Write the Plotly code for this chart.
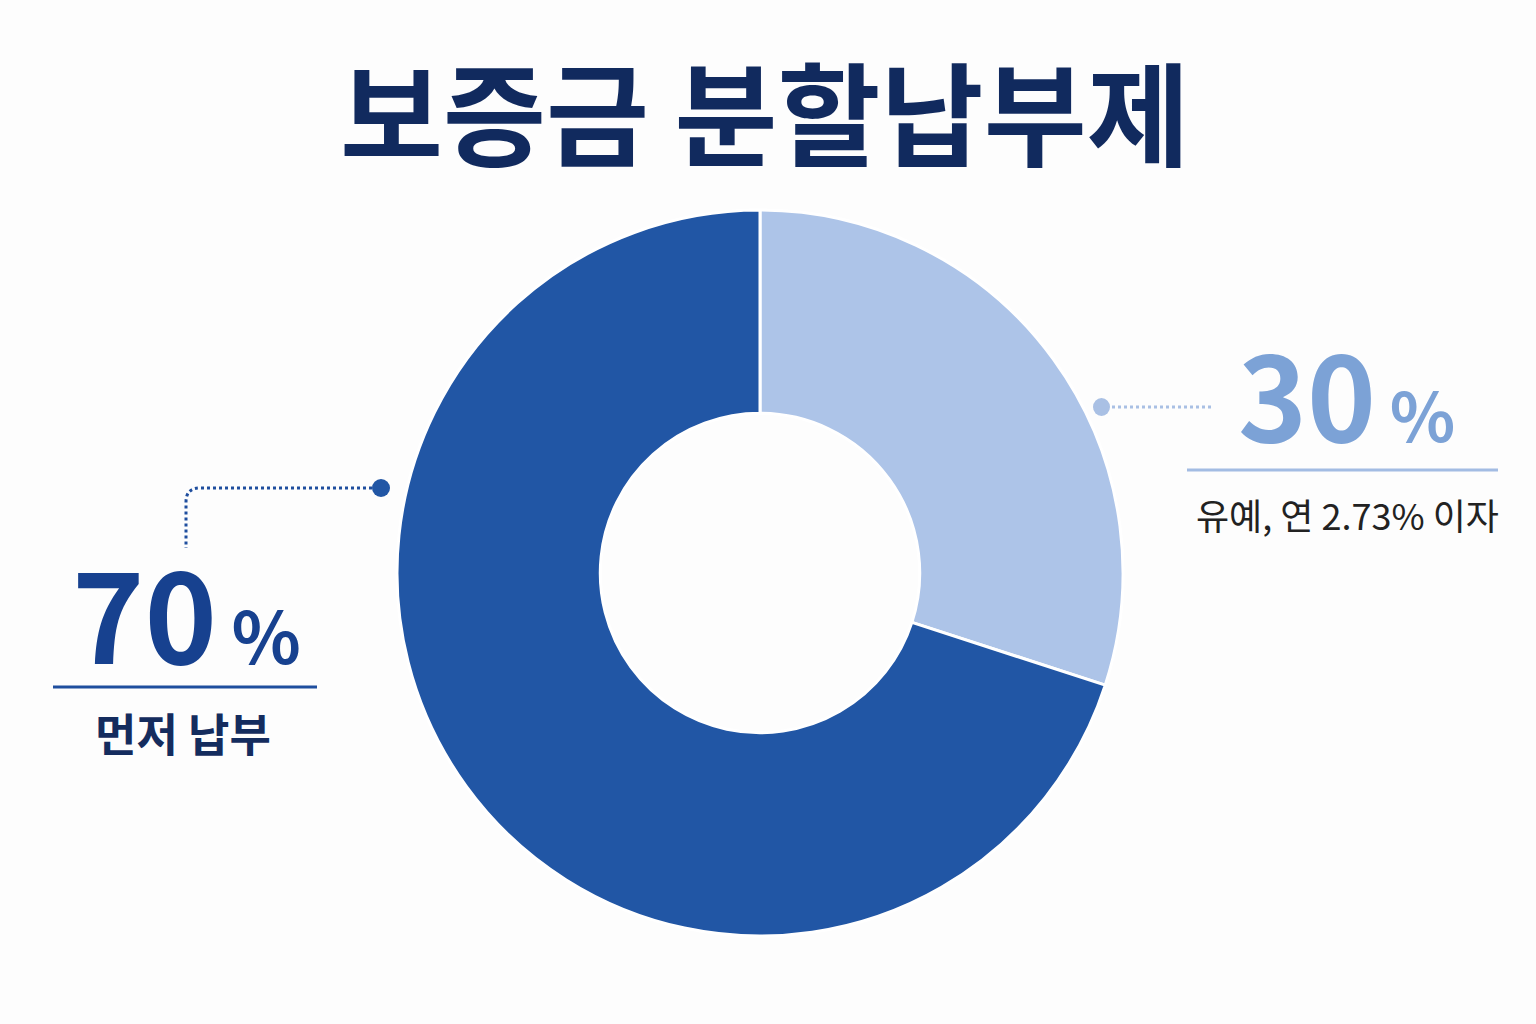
import plotly.graph_objects as go

W, H = 1536, 1024

labels = ["유예, 연 2.73% 이자", "먼저 납부"]
values = [30, 70]
pct_labels = ["30", "70"]
colors = ["#ADC4E8", "#2156A5"]
title = "보증금 분할납부제"

def px(x):
    return x / W

def py(y):
    return 1 - y / H

cx, cy, r = 760, 573, 363

fig = go.Figure()
fig.add_trace(go.Pie(
    labels=labels, values=values, sort=False, direction="clockwise", rotation=0,
    hole=0.44, textinfo="none", hoverinfo="label+percent",
    marker=dict(colors=colors, line=dict(color="white", width=3)),
    domain=dict(x=[px(cx - r), px(cx + r)], y=[py(cy + r), py(cy - r)]),
    showlegend=False,
))

FONT = "Noto Sans CJK KR"
shapes = []
annotations = []

# title
annotations.append(dict(x=px(765), y=py(109), xref="paper", yref="paper", text=f"<b>{title}</b>",
                        showarrow=False, xanchor="center", yanchor="middle",
                        font=dict(family=FONT, size=112, color="#112A5E")))

# left leader (70%)
shapes.append(dict(type="path", xref="paper", yref="paper",
                   path=f"M {px(378)},{py(488)} L {px(200)},{py(488)} Q {px(186)},{py(488)} {px(186)},{py(502)} L {px(186)},{py(548)}",
                   line=dict(color="#1F4E9E", width=3, dash="dot")))
shapes.append(dict(type="circle", xref="paper", yref="paper",
                   x0=px(372), x1=px(390), y0=py(479), y1=py(497),
                   fillcolor="#2156A5", line=dict(width=0)))
# left underline
shapes.append(dict(type="line", xref="paper", yref="paper", x0=px(53), x1=px(317), y0=py(687), y1=py(687),
                   line=dict(color="#1F4E9E", width=3)))
annotations.append(dict(x=px(186), y=py(610), xref="paper", yref="paper",
                        text=f"<b>{pct_labels[1]}<span style='font-size:72px'>\u2009%</span></b>",
                        showarrow=False, xanchor="center", yanchor="middle",
                        font=dict(family=FONT, size=123, color="#17418F")))
annotations.append(dict(x=px(183), y=py(732), xref="paper", yref="paper", text=f"<b>{labels[1]}</b>",
                        showarrow=False, xanchor="center", yanchor="middle",
                        font=dict(family=FONT, size=45, color="#142C5E")))

# right leader (30%)
shapes.append(dict(type="line", xref="paper", yref="paper", x0=px(1112), x1=px(1213), y0=py(407), y1=py(407),
                   line=dict(color="#A9C0E4", width=3, dash="dot")))
shapes.append(dict(type="circle", xref="paper", yref="paper",
                   x0=px(1093), x1=px(1110), y0=py(398), y1=py(416),
                   fillcolor="#A9C0E4", line=dict(width=0)))
shapes.append(dict(type="line", xref="paper", yref="paper", x0=px(1187), x1=px(1498), y0=py(470), y1=py(470),
                   line=dict(color="#A3BCE3", width=3)))
annotations.append(dict(x=px(1346), y=py(391), xref="paper", yref="paper",
                        text=f"<b>{pct_labels[0]}<span style='font-size:68px'>\u2009%</span></b>",
                        showarrow=False, xanchor="center", yanchor="middle",
                        font=dict(family=FONT, size=117, color="#7CA2D6")))
annotations.append(dict(x=px(1347), y=py(514), xref="paper", yref="paper", text=labels[0],
                        showarrow=False, xanchor="center", yanchor="middle",
                        font=dict(family=FONT, size=36, color="#222222")))

fig.update_layout(
    width=W, height=H, margin=dict(l=0, r=0, t=0, b=0),
    paper_bgcolor="#FDFDFD", plot_bgcolor="#FDFDFD",
    shapes=shapes, annotations=annotations,
)

fig.write_html("out.html", config={"displayModeBar": False},
               post_script="document.body.style.margin='0';document.body.style.background='#FDFDFD';")
